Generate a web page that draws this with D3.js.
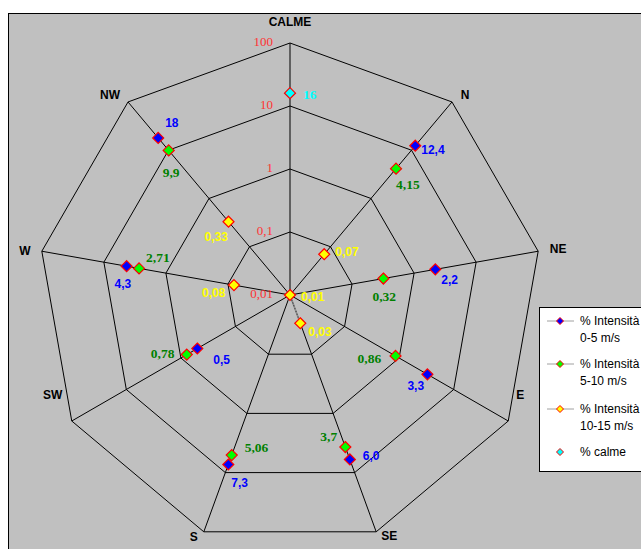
<!DOCTYPE html>
<html>
<head>
<meta charset="utf-8">
<script src="https://cdn.jsdelivr.net/npm/d3@7"></script>
<style>
  html, body { margin: 0; padding: 0; background: #fff; }
  svg { display: block; }
</style>
</head>
<body>
<svg id="chart" width="641" height="549"></svg>
<script>
// Wind rose: directions plus calm, log radial scale
const directions = ["CALME", "N", "NE", "E", "SE", "S", "SW", "W", "NW"];
const ticks = [0.01, 0.1, 1, 10, 100];
const tickLabels = ["0,01", "0,1", "1", "10", "100"];

const speed0to5   = [null, 12.4, 2.2, 3.3, 6.0, 7.3, 0.5, 4.3, 18];
const labels0to5  = [null, "12,4", "2,2", "3,3", "6,0", "7,3", "0,5", "4,3", "18"];
const speed5to10  = [null, 4.15, 0.32, 0.86, 3.7, 5.06, 0.78, 2.71, 9.9];
const labels5to10 = [null, "4,15", "0,32", "0,86", "3,7", "5,06", "0,78", "2,71", "9,9"];
const speed10to15 = [null, 0.07, null, 0.01, 0.03, null, null, 0.08, 0.33];
const labels10to15 = [null, "0,07", null, "0,01", "0,03", null, null, "0,08", "0,33"];
const calm = [16, null, null, null, null, null, null, null, null];
const calmLabels = ["16", null, null, null, null, null, null, null, null];

const legendNames = [["% Intensità", "0-5 m/s"], ["% Intensità", "5-10 m/s"], ["% Intensità", "10-15 m/s"], ["% calme"]];

// label placement (text start offset from the marker)
const off0to5   = [null, [6, 8], [6, 15], [-20, 16], [13, 1], [3, 22], [16, 15], [-12, 22], [7, -11]];
const off5to10  = [null, [0, 20], [-11, 22], [-38, 7], [-25, -6], [13, -3], [-36, 3], [7, -6], [-6, 27]];
const off10to15 = [null, [11, 2], null, [11, 6], [8, 13], null, null, [-32, 12], [-24, 19]];
const offCalm   = [[13, 6]];
// direction label offset from the outer vertex (centred text, baseline)
const dirOffsets = [[0, -17], [13, -3], [20, 2], [12, -22], [13, 8], [-10, 9], [-19, -22], [-17, 4], [-18, -3]];

const svg = d3.select("#chart");
const cx = 290, cy = 295, R = 252;

const r = d3.scaleLog().domain([0.01, 100]).range([0, R]);
const angle = d3.scalePoint().domain(directions).range([0, 2 * Math.PI * (directions.length - 1) / directions.length]);
const pos = (dir, v) => {
  const a = angle(dir), rr = r(Math.max(v, 0.01));
  return [cx + rr * Math.sin(a), cy - rr * Math.cos(a)];
};

// plot background
svg.append("rect").attr("x", 8.5).attr("y", 13.5).attr("width", 640).attr("height", 545)
  .attr("fill", "#c0c0c0").attr("stroke", "#000").attr("stroke-width", 1);

const grid = svg.append("g").attr("fill", "none").attr("stroke", "#000").attr("stroke-width", 1);
// rings
ticks.slice(1).forEach(t => {
  const pts = directions.map(d => pos(d, t));
  grid.append("path").attr("d", d3.line()(pts) + "Z");
});
// spokes
directions.forEach(d => {
  const [x, y] = pos(d, 100);
  grid.append("line").attr("x1", cx).attr("y1", cy).attr("x2", x).attr("y2", y);
});

// tick labels
svg.append("g").selectAll("text").data(ticks).join("text")
  .attr("x", 273).attr("y", (t) => cy - r(t) + 3)
  .attr("text-anchor", "end")
  .attr("font-family", "'Liberation Serif', 'Times New Roman', serif")
  .attr("font-size", 13).attr("fill", "#ff3333")
  .text((t, i) => tickLabels[i]);

// direction labels
svg.append("g").selectAll("text").data(directions).join("text")
  .attr("x", (d, i) => pos(d, 100)[0] + dirOffsets[i][0])
  .attr("y", (d, i) => pos(d, 100)[1] + dirOffsets[i][1])
  .attr("text-anchor", "middle")
  .attr("font-family", "'Liberation Sans', Arial, sans-serif")
  .attr("font-weight", "bold").attr("font-size", 12).attr("fill", "#000")
  .text(d => d);

// faint connector of the 10-15 m/s series
const yE = directions.indexOf("E"), ySE = directions.indexOf("SE");
const pA = pos(directions[yE], speed10to15[yE]), pB = pos(directions[ySE], speed10to15[ySE]);
svg.append("line").attr("x1", pA[0]).attr("y1", pA[1]).attr("x2", pB[0]).attr("y2", pB[1])
  .attr("stroke", "#8a8a8a").attr("stroke-width", 1.6).attr("stroke-dasharray", "2,1");

const diamond = (s) => `M0,${-s}L${s},0L0,${s}L${-s},0Z`;

const sans = "'Liberation Sans', Arial, sans-serif";
const serif = "'Liberation Serif', 'Times New Roman', serif";
const series = [
  { values: speed0to5, labels: labels0to5, offs: off0to5, fill: "#0000ff", text: "#0000ff", font: sans, size: 12 },
  { values: speed5to10, labels: labels5to10, offs: off5to10, fill: "#00ff00", text: "#008000", font: serif, size: 13.5 },
  { values: speed10to15, labels: labels10to15, offs: off10to15, fill: "#ffff00", text: "#ffff00", font: sans, size: 12 },
  { values: calm, labels: calmLabels, offs: offCalm, fill: "#00ffff", text: "#00ffff", font: serif, size: 13.5 }
];

series.forEach(s => {
  const g = svg.append("g");
  const pts = directions.map((d, i) => ({ d, i, v: s.values[i] })).filter(p => p.v != null);
  g.selectAll("path").data(pts).join("path")
    .attr("d", diamond(5.5))
    .attr("transform", p => `translate(${pos(p.d, p.v)[0]},${pos(p.d, p.v)[1]})`)
    .attr("fill", s.fill).attr("stroke", "#ff0000").attr("stroke-width", 1.2);
  g.selectAll("text").data(pts).join("text")
    .attr("x", p => pos(p.d, p.v)[0] + s.offs[p.i][0])
    .attr("y", p => pos(p.d, p.v)[1] + s.offs[p.i][1])
    .attr("font-family", s.font).attr("font-weight", "bold").attr("font-size", s.size)
    .attr("fill", s.text)
    .text(p => s.labels[p.i]);
});

// legend
const lg = svg.append("g");
lg.append("rect").attr("x", 539.5).attr("y", 307.5).attr("width", 120).attr("height", 164)
  .attr("fill", "#fff").attr("stroke", "#000");
const legendY = [321, 364, 409, 452];
series.forEach((s, i) => {
  const y = legendY[i];
  if (i < 3) {
    lg.append("line").attr("x1", 547).attr("x2", 574).attr("y1", y).attr("y2", y)
      .attr("stroke", "#a0a0a0").attr("stroke-width", 1);
  }
  lg.append("path").attr("d", diamond(3.5)).attr("transform", `translate(560,${y})`)
    .attr("fill", s.fill).attr("stroke", "#ff0000").attr("stroke-width", 1);
  legendNames[i].forEach((t, k) => {
    lg.append("text").attr("x", 580).attr("y", y + 4 + k * 17)
      .attr("font-family", sans).attr("font-size", 12)
      .attr("fill", "#000").text(t);
  });
});
</script>
</body>
</html>
